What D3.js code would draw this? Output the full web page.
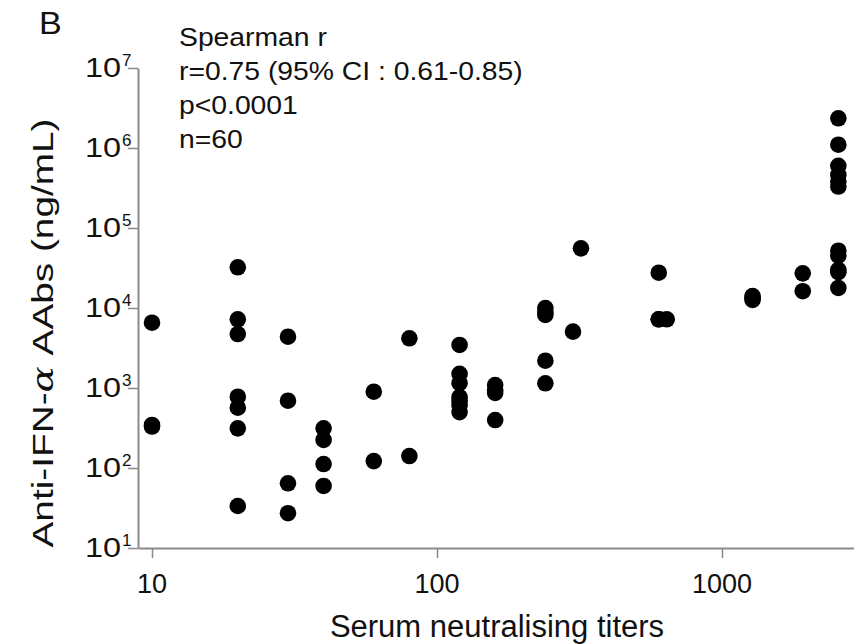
<!DOCTYPE html>
<html><head><meta charset="utf-8">
<script src="https://cdn.jsdelivr.net/npm/d3@7"></script>
<style>body{margin:0;background:#fff}text{font-family:"Liberation Sans",Arial,sans-serif;fill:#111}</style>
</head><body><svg id="c" width="854" height="644"></svg>
<script>
// Serum neutralising titers (x) for each of the 60 samples
const titers = [
  10,10,10,
  20,20,20,20,20,20,20,
  30,30,30,30,
  40,40,40,40,
  60,60,
  80,80,
  120,120,120,120,120,120,120,
  160,160,160,160,
  240,240,240,240,240,
  300,
  320,
  600,600,600,
  640,
  1280,1280,1280,
  1920,1920,
  2560,2560,2560,2560,2560,2560,2560,2560,2560,2560,2560
];
// Anti-IFN-alpha AAbs (ng/mL)
const aabs = [
  6550,330,345,
  32300,7220,4730,778,567,313,33.5,
  4380,694,64.4,27.2,
  313,224,112,59.6,
  899,122,
  4180,141,
  3450,1500,1150,770,690,610,500,
  1090,940,866,398,
  10000,9000,8180,2195,1145,
  5060,
  55700,
  27600,7220,7220,
  7220,
  14100,13300,12600,
  27100,16200,
  2350000,1100000,600000,460000,380000,330000,52000,45000,30000,28000,17800
];
const yTickExps = [1,2,3,4,5,6,7];
const xTicks = [10,100,1000];
const xTickLabels = ["10","100","1000"];
const statsLines = ["Spearman r","r=0.75 (95% CI : 0.61-0.85)","p<0.0001","n=60"];
const panelLabel = "B";
const xTitle = "Serum neutralising titers";

const svg = d3.select("#c");
const axisColor = "#8a8a8a";

const base = d3.scaleLog().domain([10,1000]).range([152,722]);
const x = d3.scaleLog().domain([base.invert(138), base.invert(856)]).range([138,856]);
const y = d3.scaleLog().domain([10,1e7]).range([548,68]);

function stretch(sel, f){
  sel.each(function(){
    const w = this.getComputedTextLength();
    d3.select(this).attr("textLength", w*f).attr("lengthAdjust","spacingAndGlyphs");
  });
}

// x axis
const gx = svg.append("g").attr("transform","translate(0,548)")
  .call(d3.axisBottom(x).tickValues(xTicks).tickSize(10).tickSizeOuter(0).tickFormat(""));
gx.select(".domain").attr("stroke",axisColor).attr("stroke-width",2);
gx.selectAll(".tick line").attr("stroke",axisColor).attr("stroke-width",1.5);

// y axis
const gy = svg.append("g").attr("transform","translate(138,0)")
  .call(d3.axisLeft(y).tickValues(yTickExps.map(e=>Math.pow(10,e))).tickSize(10).tickSizeOuter(0).tickFormat(""));
gy.select(".domain").attr("stroke",axisColor).attr("stroke-width",2);
gy.selectAll(".tick line").attr("stroke",axisColor).attr("stroke-width",1.5);

// x tick labels
svg.selectAll(".xl").data(xTicks).enter().append("text")
  .attr("x",d=>x(d)).attr("y",593).attr("text-anchor","middle")
  .attr("font-size",27).text((d,i)=>xTickLabels[i]);

// y tick labels (10 with superscript exponent)
const yl = svg.selectAll(".yl").data(yTickExps).enter().append("g");
yl.append("text").attr("x",121).attr("y",e=>y(Math.pow(10,e))+9)
  .attr("text-anchor","end").attr("font-size",27).text("10").call(stretch,1.2);
yl.append("text").attr("x",122).attr("y",e=>y(Math.pow(10,e))-2)
  .attr("font-size",17).text(e=>String(e));

// axis titles
svg.append("text").attr("x",497).attr("y",637).attr("text-anchor","middle")
  .attr("font-size",31).text(xTitle);

const yt = svg.append("text").attr("transform","translate(53,333) rotate(-90)")
  .attr("text-anchor","middle").attr("font-size",30);
yt.append("tspan").text("Anti-IFN-");
yt.append("tspan").attr("font-family","'DejaVu Serif','Liberation Serif',serif").attr("font-style","italic").text("α");
yt.append("tspan").text(" AAbs (ng/mL)");
yt.attr("textLength",429).attr("lengthAdjust","spacingAndGlyphs");

// panel label
svg.append("text").attr("x",39).attr("y",34).attr("font-size",31).text(panelLabel).call(stretch,1.1);

// stats annotation
svg.selectAll(".st").data(statsLines).enter().append("text")
  .attr("x",179).attr("y",(d,i)=>46+i*34).attr("font-size",25.5).text(d=>d).call(stretch,1.11);

// points
svg.append("g").selectAll("circle").data(titers.map((t,i)=>[t,aabs[i]])).enter()
  .append("circle").attr("cx",d=>x(d[0])).attr("cy",d=>y(d[1])).attr("r",8.3).attr("fill","#000");
</script></body></html>
